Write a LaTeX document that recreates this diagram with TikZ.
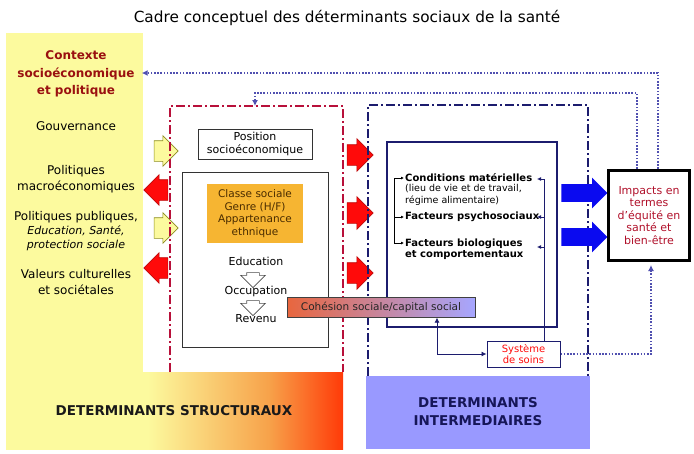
\documentclass[tikz,border=0pt]{standalone}
\usepackage{fontspec}
\setmainfont{DejaVu Sans}
\usetikzlibrary{arrows.meta, positioning, shapes.arrows, calc}
\definecolor{dsyellow}{HTML}{FCFA9E}
\definecolor{dsolive}{HTML}{8C8C1E}
\definecolor{dsdarkred}{HTML}{9A1010}
\definecolor{dsred}{HTML}{FF0A0A}
\definecolor{dsorange}{HTML}{F6B532}
\definecolor{dsbrown}{HTML}{4A2C00}
\definecolor{dsnavy}{HTML}{1C1C6E}
\definecolor{dsdash}{HTML}{B8103A}
\definecolor{dsblue}{HTML}{0A0AF0}
\definecolor{dsdot}{HTML}{5050B0}
\definecolor{dspurple}{HTML}{9999FF}
\definecolor{dscoral}{HTML}{E8663E}
\definecolor{dslav}{HTML}{A6A6FF}
\definecolor{dsgrad}{HTML}{F7A24A}
\definecolor{dsfire}{HTML}{FF3A08}
\definecolor{dsimp}{HTML}{B0102A}
\pgfdeclarehorizontalshading{structshade}{100bp}{color(0bp)=(dsyellow); color(46bp)=(dsyellow); color(64bp)=(dsgrad); color(75bp)=(dsfire); color(100bp)=(dsfire)}
\newcommand{\fs}[2]{\fontsize{#1}{#2}\selectfont}
\tikzset{
  >={Latex[length=5pt, width=5pt]},
  txt/.style={align=center, inner sep=1pt, font=\fs{12}{16}},
  ctxt/.style={txt, font=\fs{12}{17.5}\bfseries, text=dsdarkred},
  blockarrow/.style={single arrow, inner xsep=0pt, line width=0.6pt},
  inarrow/.style={blockarrow, draw=dsolive, fill=dsyellow, minimum height=24pt, inner ysep=10pt, single arrow head extend=5pt},
  outarrow/.style={blockarrow, draw=dsred!75!black, fill=dsred, minimum height=24pt, inner ysep=10pt, single arrow head extend=5pt, shape border rotate=180},
  pusharrow/.style={blockarrow, draw=dsred!75!black, fill=dsred, minimum height=26pt, inner ysep=10pt, single arrow head extend=6pt},
  steparrow/.style={blockarrow, draw=black!70, fill=white, minimum height=15pt, inner xsep=6pt, inner ysep=0pt, single arrow head extend=6pt, shape border rotate=270},
  bigarrow/.style={blockarrow, draw=none, fill=dsblue, minimum height=46pt, inner ysep=8.5pt, single arrow head extend=6.5pt},
  strdash/.style={draw=dsdash, line width=1.3pt, dash pattern=on 9pt off 3pt on 2pt off 3pt},
  intdash/.style={strdash, draw=dsnavy},
  posbox/.style={txt, draw=black!80, line width=0.9pt, minimum width=114pt, minimum height=30pt, font=\fs{11}{13}},
  strbox/.style={draw=black!80, line width=0.9pt, minimum width=146pt, minimum height=175pt},
  classbox/.style={txt, fill=dsorange, text=dsbrown, minimum width=96pt, minimum height=59pt, font=\fs{10.5}{12.5}},
  chain/.style={txt, font=\fs{11}{12}},
  intbox/.style={draw=dsnavy, line width=1.1pt, minimum width=170pt, minimum height=185pt},
  factor/.style={anchor=west, align=left, inner sep=1pt, font=\fs{10}{11.5}\bfseries},
  subfactor/.style={factor, font=\fs{9.5}{11.5}},
  tick/.style={->, >={Latex[length=3pt, width=3pt]}, line width=0.7pt},
  navyline/.style={draw=dsnavy, line width=0.8pt},
  navytick/.style={navyline, ->, >={Latex[length=4pt, width=4pt]}},
  navyarr/.style={navyline, <->, >={Latex[length=5pt, width=5pt]}},
  impbox/.style={txt, draw=black, line width=3pt, minimum width=81pt, minimum height=90pt, text=dsimp, font=\fs{11}{12.5}},
  sysbox/.style={txt, draw=dsnavy, line width=1pt, minimum width=73pt, minimum height=26pt, text=dsred, font=\fs{10}{11.5}},
  cohbox/.style={txt, draw=black!75, line width=0.8pt, left color=dscoral, right color=dslav, minimum width=188pt, minimum height=19.5pt, text=black!85, font=\fs{10.5}{11}},
  dotarr/.style={->, >={Latex[length=6pt, width=6pt]}, draw=dsdot, line width=1.6pt, dash pattern=on 1.6pt off 1.6pt},
  bottomlbl/.style={txt, font=\fs{13.5}{18}\bfseries},
}

\begin{document}
\begin{tikzpicture}[x=1pt, y=-1pt]
  \useasboundingbox (0,0) rectangle (694,453);
  % coloured backgrounds
  \fill[dsyellow] (6,33) rectangle (143,449);
  \shade[shading=structshade] (6,372) rectangle (343,449);
  \fill[dspurple] (366,376) rectangle (590,449);

  \node[font=\fs{15.3}{18}] (title) at (347,18) {Cadre conceptuel des déterminants sociaux de la santé};

  % context column
  \node[ctxt] (context) at (76,74) {Contexte\\socioéconomique\\et politique};
  \node[txt] (gouv) at (76,126) {Gouvernance};
  \node[txt] (macro) at (76,179) {Politiques\\macroéconomiques};
  \node[txt, font=\fs{12}{14}] (publ) at (76,231) {Politiques publiques,\\{\fs{11}{14}\itshape Education, Santé,}\\{\fs{11}{14}\itshape protection sociale}};
  \node[txt] (valeurs) at (76,282) {Valeurs culturelles\\et sociétales};

  \node[inarrow] (gin) at (161,151) {};
  \node[outarrow] (mout) at (161,190) {};
  \node[inarrow] (pin) at (161,228) {};
  \node[outarrow] (vout) at (161,268) {};

  % structural determinants
  \draw[strdash] (170,372) -- (170,106) -- (343,106) -- (343,372);
  \node[posbox] (pos) at (255,144) {Position\\socioéconomique};
  \node[strbox] (strbox) at (255,259.5) {};
  \node[classbox] (classe) at (255,213.5) {Classe sociale\\Genre (H/F)\\Appartenance\\ethnique};
  \node[chain] (edu) at (256,261) {Education};
  \node[steparrow] (e2o) at (253,277) {};
  \node[chain] (occ) at (256,291) {Occupation};
  \node[steparrow] (o2r) at (253,305) {};
  \node[chain] (rev) at (256,319) {Revenu};

  \node[pusharrow] (p1) at (355,155) {};
  \node[pusharrow] (p2) at (355,213) {};
  \node[pusharrow] (p3) at (355,273) {};

  % intermediary determinants
  \draw[intdash] (368,376) -- (368,105) -- (588,105) -- (588,376);
  \node[intbox] (intbox) at (472,234.5) {};
  \node[factor] (cond) at (404,178) {Conditions matérielles};
  \node[subfactor] (condsub) at (404,195) {(lieu de vie et de travail,\\régime alimentaire)};
  \node[factor] (psy) at (404,217) {Facteurs psychosociaux};
  \node[factor] (bio) at (404,249) {Facteurs biologiques\\et comportementaux};

  \coordinate (btop) at (394,178);
  \coordinate (bmid) at (394,217);
  \coordinate (bbot) at (394,243);
  \draw[line width=0.7pt] (btop) -- (bbot);
  \draw[tick] (btop) -- (cond.west);
  \draw[tick] (bmid) -- (psy.west);
  \draw[tick] (bbot) -- (bbot -| bio.west);

  \node[sysbox] (sys) at (523.5,354) {Système\\de soins};
  \coordinate (rtop) at (544,179);
  \coordinate (rmid) at (544,217);
  \coordinate (rbot) at (544,247);
  \coordinate (rtip1) at (537,179);
  \coordinate (rtip2) at (537,217);
  \coordinate (rtip3) at (537,247);
  \draw[navyline] (rtop) -- (rtop |- sys.north);
  \draw[navytick] (rtop) -- (rtip1);
  \draw[navytick] (rmid) -- (rtip2);
  \draw[navytick] (rbot) -- (rtip3);

  \node[cohbox] (coh) at (381,307.5) {Cohésion sociale/capital social};
  \draw[navyarr] ([xshift=56pt]coh.south) |- (sys.west);

  % outcome
  \node[bigarrow] (ba1) at (580,193) {};
  \node[bigarrow] (ba2) at (580,237) {};
  \node[impbox] (imp) at (649,215.5) {Impacts en\\termes\\d'équité en\\santé et\\bien-être};

  % feedback loops
  \coordinate (dA) at (658,73);
  \coordinate (dB) at (637,93);
  \coordinate (strtop) at (255,106);
  \draw[dotarr] (imp.north -| dA) -- (dA) -- ([xshift=6pt]context.east |- dA);
  \draw[dotarr] (imp.north -| dB) -- (dB) -| (strtop);
  \draw[dotarr, shorten >=3pt] (sys.east) -| ([xshift=2pt]imp.south);

  % bottom labels
  \node[bottomlbl, text=black!90] (struct) at (174,411) {DETERMINANTS STRUCTURAUX};
  \node[bottomlbl, text=dsnavy!80!black] (inter) at (478,412) {DETERMINANTS\\INTERMEDIAIRES};
\end{tikzpicture}
\end{document}
